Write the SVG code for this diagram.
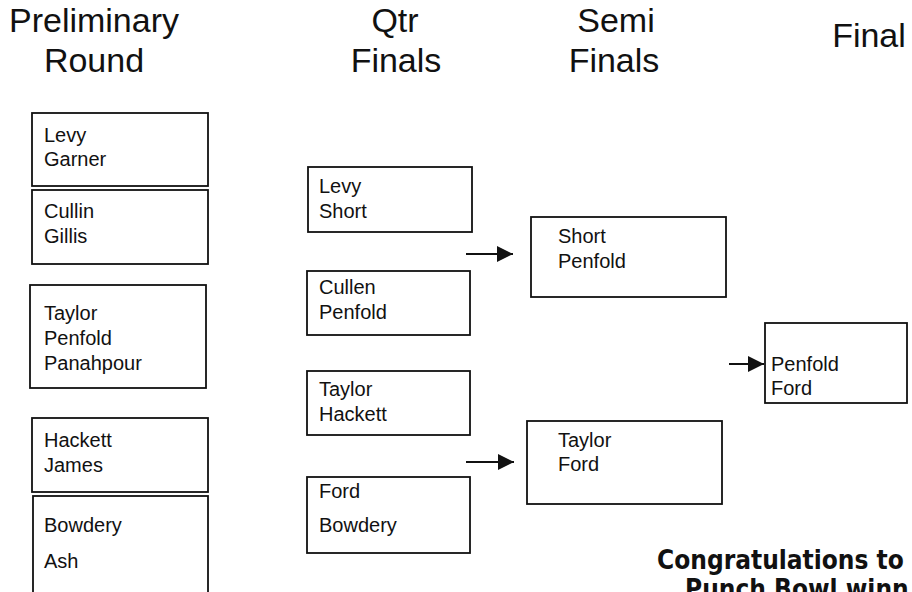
<svg xmlns="http://www.w3.org/2000/svg" width="912" height="592" viewBox="0 0 912 592">
<defs>
<style>
.bg{fill:#ffffff}
.box{fill:#ffffff;stroke:#111111;stroke-width:1.8}
.hdr{font-family:"Liberation Sans",Arial,sans-serif;font-size:34px;fill:#111111;text-anchor:middle}
.nm{font-family:"Liberation Sans",Arial,sans-serif;font-size:20px;fill:#111111}
.cg{font-family:"DejaVu Sans Condensed","DejaVu Sans",sans-serif;font-stretch:condensed;font-weight:bold;font-size:26px;fill:#111111}
.conn{stroke:#111111;stroke-width:2;fill:none}
</style>
<marker id="arr" viewBox="0 0 16 16" refX="16" refY="8" markerWidth="16" markerHeight="16" markerUnits="userSpaceOnUse" orient="auto">
<path d="M0,0 L16,8 L0,16 Z" fill="#111111"/>
</marker>
</defs>
<rect class="bg" x="0" y="0" width="912" height="592"/>
<g id="headers">
<text class="hdr" x="94" y="32">Preliminary</text>
<text class="hdr" x="94" y="72">Round</text>
<text class="hdr" x="395" y="32">Qtr</text>
<text class="hdr" x="396" y="72">Finals</text>
<text class="hdr" x="616" y="32">Semi</text>
<text class="hdr" x="614" y="72">Finals</text>
<text class="hdr" x="869" y="47">Final</text>
</g>
<g id="p1"><rect class="box" x="32" y="113" width="176" height="73"/><text class="nm" x="44" y="142">Levy</text><text class="nm" x="44" y="166">Garner</text></g>
<g id="p2"><rect class="box" x="32" y="190" width="176" height="74"/><text class="nm" x="44" y="218">Cullin</text><text class="nm" x="44" y="243">Gillis</text></g>
<g id="p3"><rect class="box" x="30" y="285" width="176" height="103"/><text class="nm" x="44" y="320">Taylor</text><text class="nm" x="44" y="345">Penfold</text><text class="nm" x="44" y="370">Panahpour</text></g>
<g id="p4"><rect class="box" x="32" y="418" width="176" height="74"/><text class="nm" x="44" y="447">Hackett</text><text class="nm" x="44" y="472">James</text></g>
<g id="p5"><rect class="box" x="33" y="496" width="175" height="110"/><text class="nm" x="44" y="532">Bowdery</text><text class="nm" x="44" y="568">Ash</text></g>
<g id="q1"><rect class="box" x="308" y="167" width="164" height="65"/><text class="nm" x="319" y="193">Levy</text><text class="nm" x="319" y="218">Short</text></g>
<g id="q2"><rect class="box" x="307" y="271" width="163" height="64"/><text class="nm" x="319" y="294">Cullen</text><text class="nm" x="319" y="319">Penfold</text></g>
<g id="q3"><rect class="box" x="307" y="371" width="163" height="64"/><text class="nm" x="319" y="396">Taylor</text><text class="nm" x="319" y="421">Hackett</text></g>
<g id="q4"><rect class="box" x="307" y="477" width="163" height="76"/><text class="nm" x="319" y="498">Ford</text><text class="nm" x="319" y="532">Bowdery</text></g>
<g id="s1"><rect class="box" x="531" y="217" width="195" height="80"/><text class="nm" x="558" y="243">Short</text><text class="nm" x="558" y="268">Penfold</text></g>
<g id="s2"><rect class="box" x="527" y="421" width="195" height="83"/><text class="nm" x="558" y="447">Taylor</text><text class="nm" x="558" y="471">Ford</text></g>
<g id="f1"><rect class="box" x="765" y="323" width="142" height="80"/><text class="nm" x="771" y="371">Penfold</text><text class="nm" x="771" y="395">Ford</text></g>
<g id="connectors">
<line class="conn" x1="466" y1="254" x2="513" y2="254" marker-end="url(#arr)"/>
<line class="conn" x1="466" y1="462" x2="514" y2="462" marker-end="url(#arr)"/>
<line class="conn" x1="729" y1="364" x2="764" y2="364" marker-end="url(#arr)"/>
</g>
<g id="note">
<text class="cg" x="657" y="569">Congratulations to</text>
<text class="cg" x="685" y="598">Punch Bowl winn</text>
</g>
</svg>
